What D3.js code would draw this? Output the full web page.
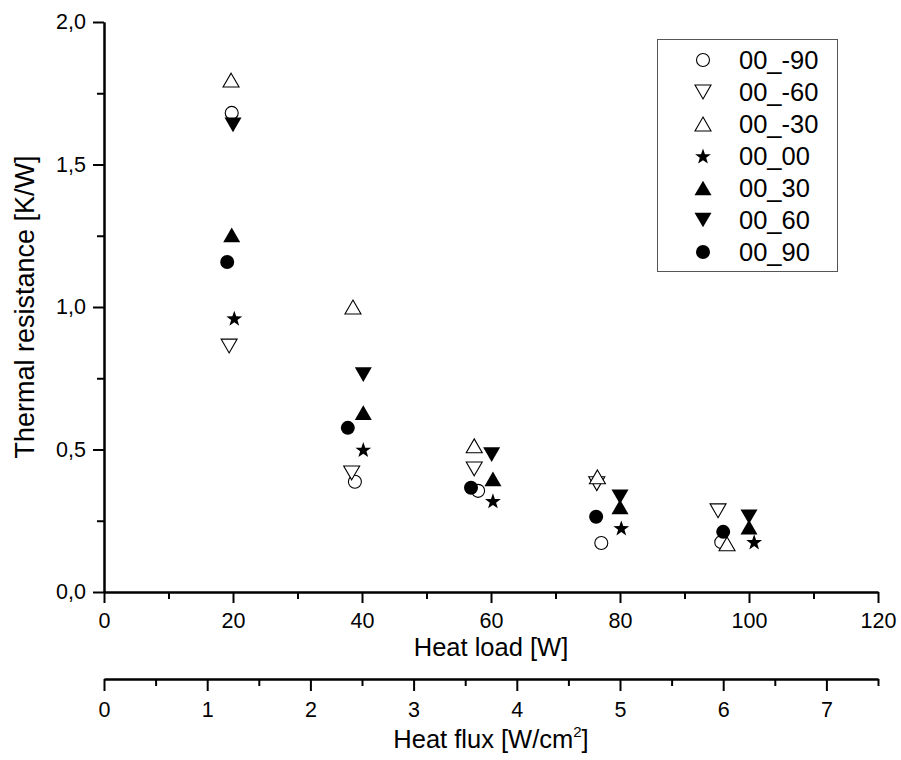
<!DOCTYPE html>
<html>
<head>
<meta charset="utf-8">
<script src="https://cdn.jsdelivr.net/npm/d3@7/dist/d3.min.js"></script>
<style>
  html, body { margin: 0; padding: 0; background: #fff; }
  svg { display: block; font-family: "Liberation Sans", Arial, Helvetica, sans-serif; }
  text { font-family: "Liberation Sans", Arial, Helvetica, sans-serif; }
</style>
</head>
<body>
<svg id="chart" width="901" height="760"></svg>
<script>
// ---------- data ----------
const seriesNames = ["00_-90", "00_-60", "00_-30", "00_00", "00_30", "00_60", "00_90"];
const seriesSymbols = ["circleOpen", "downOpen", "upOpen", "star", "upFilled", "downFilled", "circleFilled"];

const load_m90 = [19.8, 38.9, 58.0, 77.1, 95.7];
const res_m90  = [1.681, 0.387, 0.355, 0.172, 0.175];
const load_m60 = [19.4, 38.4, 57.4, 76.4, 95.2];
const res_m60  = [0.863, 0.418, 0.432, 0.380, 0.285];
const load_m30 = [19.7, 38.6, 57.4, 76.5, 96.6];
const res_m30  = [1.796, 1.000, 0.513, 0.404, 0.169];
const load_00  = [20.2, 40.2, 60.3, 80.2, 100.8];
const res_00   = [0.961, 0.500, 0.320, 0.225, 0.176];
const load_30  = [19.8, 40.2, 60.3, 80.0, 100.0];
const res_30   = [1.253, 0.629, 0.397, 0.299, 0.228];
const load_60  = [20.0, 40.2, 60.1, 80.0, 100.0];
const res_60   = [1.639, 0.763, 0.482, 0.334, 0.264];
const load_90  = [19.1, 37.8, 56.9, 76.3, 96.0];
const res_90   = [1.158, 0.576, 0.366, 0.264, 0.211];

const seriesLoads = [load_m90, load_m60, load_m30, load_00, load_30, load_60, load_90];
const seriesRes   = [res_m90, res_m60, res_m30, res_00, res_30, res_60, res_90];

const loadTicks = [0, 20, 40, 60, 80, 100, 120];
const loadMinor = [10, 30, 50, 70, 90, 110];
const resTicks  = [0, 0.5, 1.0, 1.5, 2.0];
const resMinor  = [0.25, 0.75, 1.25, 1.75];
const fluxTicks = [0, 1, 2, 3, 4, 5, 6, 7];
const fluxMinor = [0.5, 1.5, 2.5, 3.5, 4.5, 5.5, 6.5, 7.5];

// ---------- layout ----------
const L = 104, R = 878, T = 22, B = 592, B2 = 679;
const FONT = "'Liberation Sans', Arial, Helvetica, sans-serif";
const svg = d3.select("#chart");

const x = d3.scaleLinear().domain([0, 120]).range([L, R]);
const y = d3.scaleLinear().domain([0, 2]).range([B, T]);
const xf = d3.scaleLinear().domain([0, 7.5]).range([L, R]);

const fmtComma = d => d3.format(".1f")(d).replace(".", ",");

function styleAxis(g, fs) {
  g.attr("font-family", FONT);
  g.selectAll("path.domain").attr("stroke", "#000").attr("stroke-width", 2);
  g.selectAll(".tick line").attr("stroke", "#000").attr("stroke-width", 2);
  g.selectAll(".tick text").attr("fill", "#000").attr("font-size", fs).attr("font-family", FONT);
}

// y axis
const gyMinor = svg.append("g").attr("transform", `translate(${L},0)`)
  .call(d3.axisLeft(y).tickValues(resMinor).tickSize(7).tickSizeOuter(0).tickFormat(""));
styleAxis(gyMinor, 21.5);
const gy = svg.append("g").attr("transform", `translate(${L},0)`)
  .call(d3.axisLeft(y).tickValues(resTicks).tickSize(11).tickSizeOuter(0).tickPadding(7).tickFormat(fmtComma));
styleAxis(gy, 21.5);

// x axis (heat load)
const gxMinor = svg.append("g").attr("transform", `translate(0,${B})`)
  .call(d3.axisBottom(x).tickValues(loadMinor).tickSize(7).tickSizeOuter(0).tickFormat(""));
styleAxis(gxMinor, 21.5);
const gx = svg.append("g").attr("transform", `translate(0,${B})`)
  .call(d3.axisBottom(x).tickValues(loadTicks).tickSize(11).tickSizeOuter(0).tickPadding(10).tickFormat(d3.format("d")));
styleAxis(gx, 21.5);

// second axis (heat flux)
const gfMinor = svg.append("g").attr("transform", `translate(0,${B2})`)
  .call(d3.axisBottom(xf).tickValues(fluxMinor).tickSize(7).tickSizeOuter(0).tickFormat(""));
styleAxis(gfMinor, 21.5);
const gf = svg.append("g").attr("transform", `translate(0,${B2})`)
  .call(d3.axisBottom(xf).tickValues(fluxTicks).tickSize(12).tickSizeOuter(0).tickPadding(11).tickFormat(d3.format("d")));
styleAxis(gf, 21.5);

// axis titles
svg.append("text").attr("x", x(60)).attr("y", 656).attr("text-anchor", "middle")
  .attr("font-size", 25.5).attr("font-family", FONT).attr("fill", "#000").text("Heat load [W]");
const ft = svg.append("text").attr("x", x(60)).attr("y", 748).attr("text-anchor", "middle")
  .attr("font-size", 25.5).attr("font-family", FONT).attr("fill", "#000");
ft.append("tspan").text("Heat flux [W/cm");
ft.append("tspan").attr("font-size", 15).attr("dy", -11).text("2");
ft.append("tspan").attr("dy", 11).text("]");
svg.append("text").attr("transform", `translate(34,${y(1)}) rotate(-90)`)
  .attr("text-anchor", "middle").attr("font-size", 27).attr("font-family", FONT).attr("fill", "#000")
  .text("Thermal resistance [K/W]");

// ---------- markers ----------
function trianglePath(w, up) {
  const h = w * Math.sqrt(3) / 2;
  return up
    ? `M0,${-h/2}L${w/2},${h/2}L${-w/2},${h/2}Z`
    : `M0,${h/2}L${w/2},${-h/2}L${-w/2},${-h/2}Z`;
}
function starPath(Ro) {
  const Ri = Ro * 0.40;
  const pts = [];
  for (let i = 0; i < 10; i++) {
    const a = -Math.PI / 2 + i * Math.PI / 5;
    const r = i % 2 === 0 ? Ro : Ri;
    pts.push([r * Math.cos(a), r * Math.sin(a) + Ro * 0.1]);
  }
  return "M" + pts.map(p => p[0].toFixed(2) + "," + p[1].toFixed(2)).join("L") + "Z";
}
function drawMarker(g, kind) {
  switch (kind) {
    case "circleOpen":
      g.append("circle").attr("r", 6.5).attr("fill", "#fff").attr("stroke", "#000").attr("stroke-width", 1.1); break;
    case "circleFilled":
      g.append("circle").attr("r", 7).attr("fill", "#000"); break;
    case "upOpen":
      g.append("path").attr("d", trianglePath(16, true)).attr("fill", "#fff").attr("stroke", "#000").attr("stroke-width", 1.1); break;
    case "downOpen":
      g.append("path").attr("d", trianglePath(16, false)).attr("fill", "#fff").attr("stroke", "#000").attr("stroke-width", 1.1); break;
    case "upFilled":
      g.append("path").attr("d", trianglePath(17, true)).attr("fill", "#000"); break;
    case "downFilled":
      g.append("path").attr("d", trianglePath(17, false)).attr("fill", "#000"); break;
    case "star":
      g.append("path").attr("d", starPath(8.3)).attr("fill", "#000"); break;
  }
}

// draw series (later series on top)
seriesNames.forEach((name, i) => {
  const pts = seriesLoads[i].map((v, j) => ({ load: v, res: seriesRes[i][j] }));
  const sg = svg.append("g").attr("class", "series");
  pts.forEach(p => {
    const mg = sg.append("g").attr("transform", `translate(${x(p.load)},${y(p.res)})`);
    drawMarker(mg, seriesSymbols[i]);
  });
});

// ---------- legend ----------
const lg = svg.append("g");
lg.append("rect").attr("x", 657.5).attr("y", 39.5).attr("width", 180).attr("height", 232)
  .attr("fill", "#fff").attr("stroke", "#555").attr("stroke-width", 1);
seriesNames.forEach((name, i) => {
  const yy = 60 + i * 32;
  const mg = lg.append("g").attr("transform", `translate(703,${yy})`);
  drawMarker(mg, seriesSymbols[i]);
  lg.append("text").attr("x", 739).attr("y", yy + 9).attr("font-size", 25.5)
    .attr("font-family", FONT).attr("fill", "#000").text(name);
});
</script>
</body>
</html>
